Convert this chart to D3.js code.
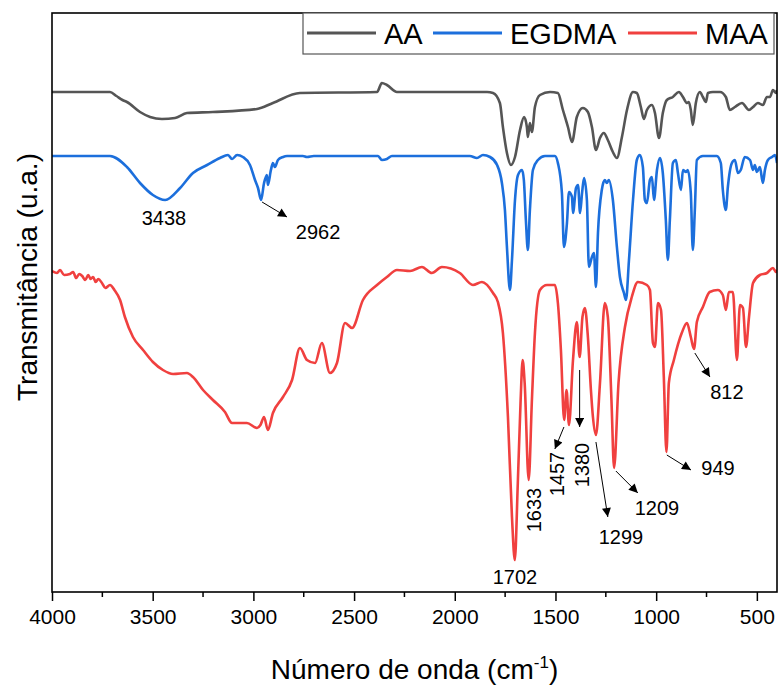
<!DOCTYPE html>
<html>
<head>
<meta charset="utf-8">
<script src="https://cdn.jsdelivr.net/npm/d3@7/dist/d3.min.js"></script>
<style>
  html, body { margin: 0; padding: 0; background: #fff; }
  svg { display: block; font-family: "Liberation Sans", Arial, sans-serif; }
</style>
</head>
<body>
<svg id="chart" width="779" height="685"></svg>
<script>
// FTIR spectra: wavenumber (cm-1) and transmittance in arbitrary units (stacked traces)
const seriesNames = ["AA", "EGDMA", "MAA"];
const seriesColors = ["#555555", "#1c6fdc", "#f0403f"];

const aaWavenumber = [4000,3727,3712,3680,3650,3628,3563,3513,3454,3389,3330,3201,2982,2903,2769,2386,2362,2337,2287,1840,1810,1776,1761,1741,1721,1701,1676,1656,1642,1637,1627,1617,1602,1577,1527,1488,1463,1438,1418,1394,1364,1339,1319,1299,1279,1260,1240,1215,1195,1170,1145,1115,1096,1076,1061,1046,1021,1006,986,967,947,917,887,867,847,838,828,818,803,783,768,753,743,718,683,654,634,609,574,539,519,495,470,450,435,420,405,400];
const aaValue = [500,500,500,496,492,490,480,475,473,474,479,480,483,489,499,500,509,507,500,500,499,489,465,439,427,435,462,475,465,455,469,460,485,497,500,499,482,465,450,475,484,480,465,442,454,459,452,440,434,455,482,500,499,485,473,482,487,479,454,479,492,495,500,495,489,490,482,467,489,500,495,490,499,500,500,495,482,485,489,482,485,489,487,495,495,502,499,502];

const egWavenumber = [4000,3712,3628,3563,3499,3438,3364,3300,3230,3166,3126,3106,3081,3052,3017,2992,2977,2962,2947,2933,2928,2913,2903,2893,2878,2853,2833,2754,2734,2700,2381,2362,2337,2312,1925,1890,1860,1825,1790,1766,1751,1741,1726,1716,1701,1686,1666,1657,1647,1637,1627,1612,1587,1552,1503,1488,1468,1458,1443,1433,1418,1413,1398,1388,1378,1368,1358,1344,1334,1319,1309,1299,1289,1270,1255,1245,1235,1215,1195,1180,1160,1150,1135,1115,1096,1081,1066,1056,1046,1031,1021,1011,996,981,967,952,942,932,917,902,892,877,867,852,843,828,818,808,798,768,699,679,669,654,644,624,609,594,580,560,534,519,510,500,485,470,460,445,425,410,400];
const egValue = [436,436,425,409,397,392,404,419,427,434,437,433,437,435,427,412,404,392,409,417,407,422,429,425,432,435,436,436,435,436,436,432,433,436,436,434,437,435,427,409,382,345,302,332,392,417,422,412,372,342,382,422,432,436,436,429,399,345,369,400,395,379,404,407,379,399,414,392,325,335,339,305,359,402,412,409,412,392,345,315,299,292,332,392,432,437,425,392,389,412,415,392,422,434,419,372,332,372,429,432,419,402,422,420,422,399,342,382,432,436,436,429,402,382,405,429,432,419,422,435,432,422,427,420,425,409,422,432,435,437,429];

const maaWavenumber = [4000,3975,3960,3940,3911,3895,3880,3865,3850,3835,3820,3808,3796,3783,3770,3752,3735,3712,3690,3662,3638,3598,3548,3499,3449,3399,3330,3300,3250,3201,3141,3106,3032,2982,2965,2947,2928,2903,2853,2808,2769,2734,2694,2660,2620,2585,2545,2510,2456,2386,2337,2287,2222,2163,2114,2064,1975,1910,1865,1810,1786,1761,1736,1716,1702,1687,1673,1663,1653,1633,1617,1602,1577,1542,1503,1488,1473,1457,1445,1433,1413,1394,1380,1366,1354,1339,1324,1314,1299,1279,1255,1240,1222,1209,1187,1155,1121,1091,1046,1031,1016,1006,991,976,962,949,937,912,873,847,828,812,798,768,734,694,669,654,639,619,599,584,569,554,539,519,485,450,420,405,400];
const maaValue = [321,319,322,317,318,320,314,318,316,312,317,313,315,310,313,309,304,307,302,292,275,255,242,230,222,218,219,215,202,192,180,169,169,164,167,175,162,179,195,212,244,232,229,249,219,229,269,264,292,307,315,322,321,325,319,325,319,307,310,299,290,259,175,75,32,109,192,232,209,112,192,259,302,307,307,289,242,172,202,167,232,270,235,275,284,255,202,175,157,209,289,275,192,124,209,265,295,310,307,302,249,245,289,282,215,140,209,232,259,269,255,243,270,285,300,302,297,282,300,300,232,287,284,245,275,309,317,319,324,320,322];

// bottom axis ticks
const majorTicks = [4000,3500,3000,2500,2000,1500,1000,500];
const minorTicks = [3750,3250,2750,2250,1750,1250,750];

// peak annotations: label text, label anchor (wavenumber, value), optional arrow
const peakLabels = [
  { text: "3438", wn: 3444, v: 367, rotate: false },
  { text: "2962", wn: 2679, v: 353, rotate: false, arrow: [2957, 390, 2833, 375] },
  { text: "1702", wn: 1701, v: 8,   rotate: false },
  { text: "1633", wn: 1607, v: 82,  rotate: true },
  { text: "1457", wn: 1493, v: 118, rotate: true,  arrow: [1458, 165, 1503, 143] },
  { text: "1380", wn: 1369, v: 127, rotate: true,  arrow: [1380, 222, 1380, 165] },
  { text: "1299", wn: 1175, v: 48,  rotate: false, arrow: [1299, 150, 1240, 75] },
  { text: "1209", wn: 996,  v: 77,  rotate: false, arrow: [1200, 121, 1091, 99] },
  { text: "949",  wn: 693,  v: 117, rotate: false, arrow: [947, 137, 827, 122] },
  { text: "812",  wn: 649,  v: 193, rotate: false, arrow: [808, 239, 733, 215] }
];

const svg = d3.select("#chart");
const margin = { left: 52, right: 2, top: 13, bottom: 93 };
const W = 779, H = 685;
const plotW = W - margin.left - margin.right;
const plotH = H - margin.top - margin.bottom;

const x = d3.scaleLinear().domain([4000, 400]).range([margin.left, margin.left + plotW]);
const y = d3.scaleLinear().domain([0, 579]).range([margin.top + plotH, margin.top]);

const series = [
  { name: seriesNames[0], color: seriesColors[0], wn: aaWavenumber, val: aaValue },
  { name: seriesNames[1], color: seriesColors[1], wn: egWavenumber, val: egValue },
  { name: seriesNames[2], color: seriesColors[2], wn: maaWavenumber, val: maaValue }
];

const line = d3.line()
  .x(d => x(d[0]))
  .y(d => y(d[1]))
  .curve(d3.curveMonotoneX);

svg.append("defs").append("clipPath").attr("id", "plotClip")
  .append("rect").attr("x", margin.left).attr("y", margin.top)
  .attr("width", plotW).attr("height", plotH);

const traces = svg.append("g").attr("clip-path", "url(#plotClip)");
series.forEach(s => {
  const pts = s.wn.map((w, i) => [w, s.val[i]]);
  traces.append("path")
    .attr("d", line(pts))
    .attr("fill", "none")
    .attr("stroke", s.color)
    .attr("stroke-width", 2.6)
    .attr("stroke-linejoin", "round");
});

// bottom axis with major and minor ticks
const axisY = margin.top + plotH;
const xAxis = d3.axisBottom(x).tickValues(majorTicks).tickSize(9).tickPadding(8).tickSizeOuter(0).tickFormat(d3.format("d"));
const gx = svg.append("g").attr("transform", `translate(0,${axisY})`).call(xAxis);
gx.select(".domain").remove();
gx.selectAll(".tick line").attr("stroke", "#000").attr("stroke-width", 1.5);
gx.selectAll(".tick text").attr("font-size", 21).attr("fill", "#000")
  .attr("font-family", "'Liberation Sans', Arial, sans-serif");
svg.append("g").selectAll("line").data(minorTicks).join("line")
  .attr("x1", d => x(d)).attr("x2", d => x(d))
  .attr("y1", axisY).attr("y2", axisY + 5)
  .attr("stroke", "#000").attr("stroke-width", 1.5);

// frame
svg.append("rect")
  .attr("x", margin.left).attr("y", margin.top)
  .attr("width", plotW).attr("height", plotH)
  .attr("fill", "none").attr("stroke", "#000").attr("stroke-width", 1.6);

// axis titles
const xt = svg.append("text")
  .attr("x", margin.left + plotW / 2).attr("y", 679)
  .attr("text-anchor", "middle").attr("font-size", 28).attr("fill", "#000");
xt.append("tspan").text("Número de onda (cm");
xt.append("tspan").text("-1").attr("font-size", 17).attr("dy", -11);
xt.append("tspan").text(")").attr("dy", 11);

svg.append("text")
  .attr("transform", `translate(37,277) rotate(-90)`)
  .attr("text-anchor", "middle").attr("font-size", 28).attr("fill", "#000")
  .text("Transmitância (u.a.)");

// legend
const legend = svg.append("g");
legend.append("rect")
  .attr("x", 303).attr("y", 13).attr("width", 471).attr("height", 41)
  .attr("fill", "#fff").attr("stroke", "#555").attr("stroke-width", 1.2);
const legendItems = [
  { lx: 307, tx: 384 },
  { lx: 433, tx: 510 },
  { lx: 628, tx: 705 }
];
series.forEach((s, i) => {
  const it = legendItems[i];
  legend.append("line")
    .attr("x1", it.lx).attr("x2", it.lx + 69).attr("y1", 33).attr("y2", 33)
    .attr("stroke", s.color).attr("stroke-width", 3);
  legend.append("text")
    .attr("x", it.tx).attr("y", 44)
    .attr("font-size", 29).attr("fill", "#000").text(s.name);
});

// peak labels and arrows
const marker = svg.select("defs").append("marker")
  .attr("id", "arrowHead").attr("viewBox", "0 0 10 10")
  .attr("refX", 10).attr("refY", 5)
  .attr("markerWidth", 11).attr("markerHeight", 9)
  .attr("markerUnits", "userSpaceOnUse")
  .attr("orient", "auto");
marker.append("path").attr("d", "M0,0 L10,5 L0,10 Z").attr("fill", "#000");

const ann = svg.append("g");
peakLabels.forEach(p => {
  if (p.arrow) {
    ann.append("line")
      .attr("x1", x(p.arrow[0])).attr("y1", y(p.arrow[1]))
      .attr("x2", x(p.arrow[2])).attr("y2", y(p.arrow[3]))
      .attr("stroke", "#000").attr("stroke-width", 1)
      .attr("marker-end", "url(#arrowHead)");
  }
  const t = ann.append("text")
    .attr("text-anchor", "middle")
    .attr("font-size", 20).attr("fill", "#000").text(p.text);
  if (p.rotate) {
    t.attr("transform", `translate(${x(p.wn) + 7},${y(p.v)}) rotate(-90)`);
  } else {
    t.attr("x", x(p.wn)).attr("y", y(p.v));
  }
});
</script>
</body>
</html>
